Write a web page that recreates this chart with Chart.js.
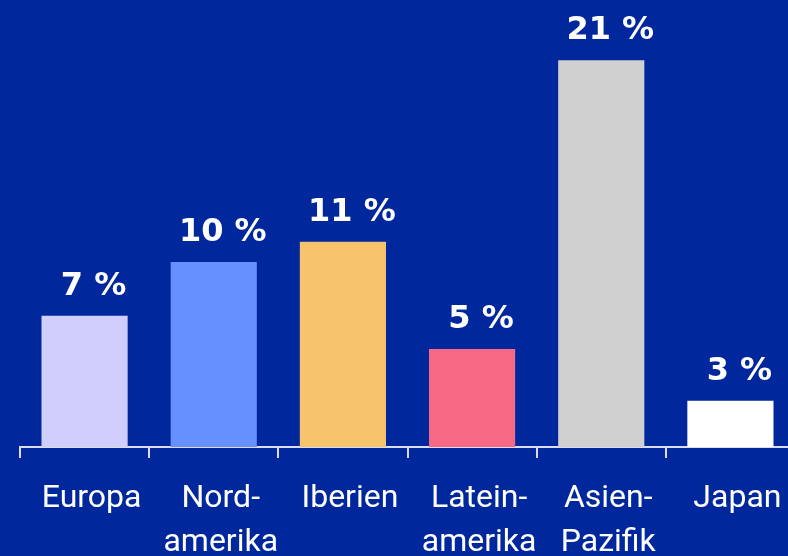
<!DOCTYPE html>
<html>
<head>
<meta charset="utf-8">
<script src="https://cdn.jsdelivr.net/npm/chart.js@4/dist/chart.umd.min.js"></script>
<style>
  html, body { margin: 0; padding: 0; background: #00289c; overflow: hidden; }
  #wrap { width: 796px; height: 556px; position: relative; }
</style>
</head>
<body>
<div id="wrap"><canvas id="myChart"></canvas></div>
<script>
// Regionen und Wachstum in %
const categories = [['Europa'], ['Nord-', 'amerika'], ['Iberien'], ['Latein-', 'amerika'], ['Asien-', 'Pazifik'], ['Japan']];
const values = [7.1, 10.0, 11.1, 5.3, 20.9, 2.5];
const valueLabels = ['7 %', '10 %', '11 %', '5 %', '21 %', '3 %'];
const barColors = ['#d1cdfc', '#6590fe', '#f5c46c', '#f76884', '#d0d0d0', '#ffffff'];

const valueLabelPlugin = {
    id: 'value_labels',
    afterDatasetsDraw: (chart) => {
        const ctx = chart.ctx;
        const meta = chart.getDatasetMeta(0);
        ctx.save();
        ctx.fillStyle = '#ffffff';
        ctx.font = 'bold 32px "DejaVu Sans"';
        ctx.textAlign = 'center';
        ctx.textBaseline = 'alphabetic';
        meta.data.forEach((bar, i) => {
            ctx.fillText(valueLabels[i], bar.x + 9, bar.y - 21);
        });
        ctx.restore();
    }
};

const ctx = document.getElementById('myChart').getContext('2d');

new Chart(ctx, {
    type: 'bar',
    plugins: [valueLabelPlugin],
    data: {
        labels: categories,
        datasets: [{
            data: values,
            backgroundColor: barColors,
            barPercentage: 0.667,
            categoryPercentage: 1
        }]
    },
    options: {
        responsive: true,
        maintainAspectRatio: false,
        animation: false,
        layout: { padding: { top: 3, left: 20, right: 1, bottom: 0 } },
        plugins: {
            legend: { display: false },
            tooltip: { enabled: false }
        },
        scales: {
            y: {
                display: false,
                min: 0,
                max: 24
            },
            x: {
                afterFit: (scale) => { scale.height = 109; },
                border: { display: true, color: '#dcdcec', width: 2 },
                grid: {
                    offset: true,
                    drawOnChartArea: false,
                    drawTicks: true,
                    tickLength: 11,
                    color: '#dcdcec',
                    lineWidth: 2
                },
                ticks: {
                    color: '#ffffff',
                    font: { family: 'Roboto', size: 32, lineHeight: 1.38 },
                    padding: 19,
                    labelOffset: 7,
                    maxRotation: 0,
                    autoSkip: false
                }
            }
        }
    }
});
</script>
</body>
</html>
